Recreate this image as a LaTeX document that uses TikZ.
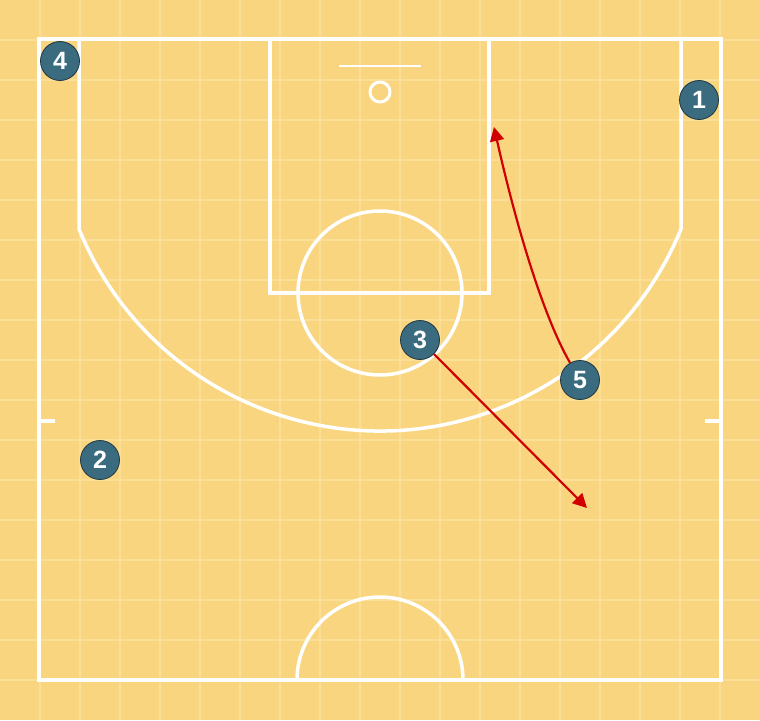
\documentclass[tikz,border=0pt]{standalone}
\usepackage{fontspec}
\newfontfamily\playerfont{Liberation Sans}
\usetikzlibrary{arrows.meta}
\definecolor{courtbg}{RGB}{249,213,128}
\definecolor{gridc}{RGB}{251,223,152}
\definecolor{playerfill}{RGB}{58,107,126}
\definecolor{playerline}{RGB}{30,55,66}
\definecolor{movered}{RGB}{208,0,0}
\tikzset{
  courtline/.style={draw=white,line width=3.5pt},
  gridline/.style={draw=gridc,line width=2.5pt},
  player/.style={circle,fill=playerfill,draw=playerline,line width=0.8pt,minimum size=39pt,inner sep=0pt,text=white,font=\playerfont\bfseries\fontsize{25}{25}\selectfont},
  move/.style={draw=movered,line width=2.2pt,-{Triangle[length=14pt,width=14pt]}}
}
\begin{document}
\begin{tikzpicture}[x=1pt,y=-1pt]
\useasboundingbox (0,0) rectangle (760,720);
\fill[courtbg] (0,0) rectangle (760,720);
% grid
\foreach \gx in {40,80,...,720} \draw[gridline] (\gx,0) -- (\gx,720);
\foreach \gy in {40,80,...,680} \draw[gridline] (0,\gy) -- (760,\gy);
% court
\draw[courtline] (39,39) rectangle (721,680);
\draw[courtline] (270,39) -- (270,293) -- (489,293) -- (489,39);
\draw[courtline] (380,293) circle[radius=82];
\draw[draw=white,line width=2pt] (339,66) -- (421,66);
\draw[draw=white,line width=3pt] (380,92) circle[radius=10];
\draw[courtline] (79,39) -- (79,229) arc[start angle=157.72,end angle=22.28,radius=325.3] -- (681,39);
\draw[courtline] (39,421) -- (55,421);
\draw[courtline] (705,421) -- (721,421);
\begin{scope}
\clip (0,0) rectangle (760,680);
\draw[courtline] (380,680) circle[radius=83];
\end{scope}
% players
\node[player] (p4) at (60,61) {4};
\node[player] (p1) at (699,100) {1};
\node[player] (p2) at (100,460) {2};
\node[player] (p3) at (420,340) {3};
\node[player] (p5) at (580,380) {5};
% movement targets
\coordinate (t3) at (587,508);
\coordinate (t5) at (494,127);
\draw[move] (p3) -- (t3);
\draw[move] (p5) .. controls (543,316) and (516,225) .. (t5);
\end{tikzpicture}
\end{document}
